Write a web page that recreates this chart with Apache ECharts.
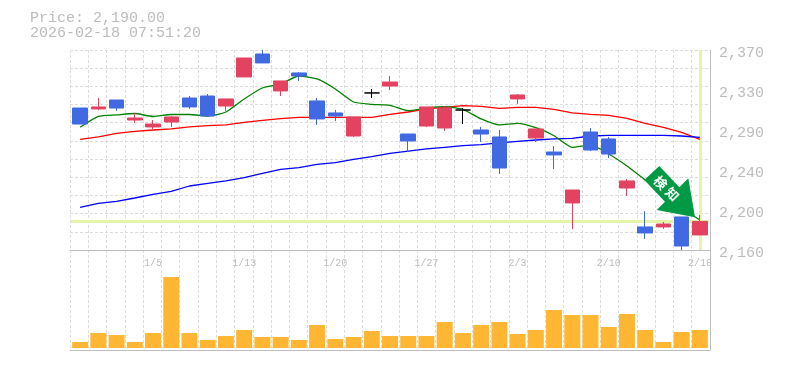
<!DOCTYPE html>
<html><head><meta charset="utf-8">
<style>html,body{margin:0;padding:0;background:#fff}#c{width:785px;height:370px}</style>
<script src="https://cdn.jsdelivr.net/npm/echarts@6/dist/echarts.min.js"></script>
</head><body><div id="c"></div>
<script>
const dates=['12/25','12/26','12/29','12/30','1/5','1/6','1/7','1/8','1/9','1/13','1/14','1/15','1/16','1/19','1/20','1/21','1/22','1/23','1/26','1/27','1/28','1/29','1/30','2/2','2/3','2/4','2/5','2/6','2/9','2/10','2/12','2/13','2/16','2/17','2/18'];
const shownDates=['1/5','1/13','1/20','1/27','2/3','2/10','2/18'];
const priceTickLabels=['2,160','2,200','2,240','2,290','2,330','2,370'];
// open, close, low, high
const ohlc=[
[2309.1,2292.3,2292.3,2309.1],[2308.1,2310.2,2307,2319.6],[2317.5,2309.1,2306,2317.5],[2296.5,2298.6,2293.4,2303.9],
[2289.2,2292.3,2287,2296.5],[2294.4,2299.7,2289.2,2300.7],[2319.6,2310.2,2308.1,2321.7],[2321.7,2300.7,2300.7,2323.8],
[2311.2,2318.6,2306,2318.6],[2341.7,2361.6,2341.7,2361.6],[2365.8,2356.4,2356.4,2370],[2327,2337.5,2321.7,2337.5],
[2345.9,2342.7,2337.5,2346.9],[2316.5,2297.6,2291.3,2319.6],[2303.9,2300.7,2295.5,2307],[2279.7,2299.7,2278.7,2299.7],
[2324.9,2324.9,2319.6,2329],[2332.2,2336.4,2328,2342.7],[2281.8,2274.5,2262.9,2281.8],[2290.2,2310.2,2289.2,2310.2],
[2288.1,2309.1,2285,2311.2],[2307,2307,2292.3,2309.1],[2286,2281.8,2273.4,2289.2],[2278.7,2246.1,2239.8,2286],
[2318.6,2322.8,2313.3,2323.8],[2277.6,2287.1,2273.4,2287.1],[2262.9,2259.8,2245,2269.2],[2209.4,2223,2182.1,2223],
[2283.9,2265,2263.9,2288.1],[2276.6,2260.8,2256.6,2278.7],[2225.1,2232.5,2216.7,2234.6],[2184.2,2177.9,2171.6,2200.9],
[2184.2,2187.3,2182.1,2189.4],[2194.7,2164.2,2160,2194.7],[2175.8,2190,2175.8,2196.8]];
const maGreen=[2288.8,2300.2,2301.8,2303.3,2300.2,2302.3,2302.3,2300.7,2304.9,2318.6,2330.1,2334.3,2342.7,2339.6,2329.1,2315.4,2313,2311.9,2306.3,2309.1,2310.5,2307.7,2297.6,2291.3,2293,2288.4,2280,2267.8,2270.3,2260.8,2248.2,2233.5,2219.9,2204.1,2191.5];
const maRed=[2276.2,2278.7,2282.5,2284.6,2286,2287.1,2289.2,2290.5,2291.3,2294.1,2296.2,2297.9,2299.3,2299.3,2299.3,2299.3,2299.3,2302.5,2304.9,2308.1,2309.8,2311.5,2310.9,2308.8,2309.8,2309.8,2307.7,2303.9,2302.5,2301.4,2298.3,2293,2288.8,2283.6,2276.2];
const maBlue=[2204.8,2209,2211.1,2214.6,2218.5,2221.6,2227.2,2230,2232.5,2235.9,2240.5,2244.7,2246.6,2250,2251.7,2255.2,2258,2261.5,2263.9,2266.1,2267.8,2269.5,2270.6,2272.4,2274.1,2275.5,2276.6,2277.3,2279.7,2280.4,2280.4,2280.4,2280.4,2279.7,2278.3];
const volume=[6,15,13,6,15,71,15,8,12,18,11,11,8,23,9,11,17,12,12,12,26,15,23,26,14,18,38,33,33,21,34,18,6,16,18];
const lastPrice=2190;
const lastDate='2/18';
const headerLines=['Price: 2,190.00','2026-02-18 07:51:20'];
const arrowChars=['検','知'];

const MONO='"Liberation Mono",monospace';
const grey='#bcbcbc', frame='#bdbdbd', gridC='#dcdcdc', lime='#e4f5a8';
const dashed={show:true,lineStyle:{color:gridC,type:[3,2],width:1}};
const hiddenX={axisLine:{show:false},axisTick:{show:false},axisLabel:{show:false},splitLine:{show:false}};
const hiddenY={axisLine:{show:false},axisTick:{show:false},axisLabel:{show:false},splitLine:{show:false}};
const frameLine={show:true,onZero:false,lineStyle:{color:frame,width:1}};
const chart=echarts.init(document.getElementById('c'),null,{renderer:'canvas'});
chart.setOption({
 animation:false,backgroundColor:'#fff',
 title:headerLines.map((t,i)=>({text:t,left:30,top:11+i*15,padding:0,textStyle:{fontFamily:MONO,fontSize:15,fontWeight:'normal',color:grey,lineHeight:15}})),
 grid:[
  {left:71,width:638,top:50,height:200},
  {left:71,width:638,top:250,height:100},
  {left:70,width:640,top:50,height:200},
  {left:70,width:640,top:250,height:100}
 ],
 xAxis:[
  {type:'category',gridIndex:0,data:dates,...hiddenX,
   axisLabel:{show:true,interval:(i,v)=>shownDates.includes(v),hideOverlap:false,fontFamily:MONO,fontSize:10,color:grey,margin:8}},
  {type:'category',gridIndex:1,data:dates,...hiddenX},
  {type:'category',gridIndex:2,data:dates,axisLine:frameLine,axisTick:{show:false},axisLabel:{show:false},splitLine:{...dashed,interval:0}},
  {type:'category',gridIndex:3,data:dates,axisLine:frameLine,axisTick:{show:false},axisLabel:{show:false},splitLine:{...dashed,interval:0}}
 ],
 yAxis:[
  {type:'value',gridIndex:0,min:2160,max:2370,...hiddenY},
  {type:'value',gridIndex:1,min:-2,max:98,...hiddenY},
  {type:'value',gridIndex:2,min:0,max:5,interval:1,position:'right',
   axisLine:{show:true,lineStyle:{color:frame,width:1}},axisTick:{show:false},splitLine:{show:false},
   axisLabel:{show:true,margin:9,fontFamily:MONO,fontSize:15,color:grey,verticalAlign:'top',lineHeight:6,formatter:v=>priceTickLabels[v]}},
  {type:'value',gridIndex:2,min:0,max:11,interval:1,position:'left',axisLine:{show:false},axisTick:{show:false},axisLabel:{show:false},splitLine:dashed},
  {type:'value',gridIndex:3,min:0,max:1,position:'right',axisLine:{show:true,lineStyle:{color:frame,width:1}},axisTick:{show:false},axisLabel:{show:false},splitLine:{show:false}}
 ],
 series:[
  {type:'line',name:'MA red',xAxisIndex:0,yAxisIndex:0,data:maRed,showSymbol:false,z:2,lineStyle:{color:'#ff0000',width:1.3},
   markLine:{silent:true,symbol:'none',z:1,animation:false,label:{show:false},lineStyle:{color:lime,type:'solid',width:3},
     data:[{yAxis:lastPrice},{xAxis:lastDate}]}},
  {type:'line',name:'MA blue',xAxisIndex:0,yAxisIndex:0,data:maBlue,showSymbol:false,z:2,lineStyle:{color:'#0000ff',width:1.3}},
  {type:'line',name:'MA green',xAxisIndex:0,yAxisIndex:0,data:maGreen,showSymbol:false,smooth:0.2,z:2,lineStyle:{color:'#008000',width:1.3}},
  {type:'candlestick',xAxisIndex:0,yAxisIndex:0,data:ohlc,barWidth:15,z:3,
   itemStyle:{color:'#e34260',borderColor:'#e34260',color0:'#4169e1',borderColor0:'#4169e1',borderColorDoji:'#000000',borderWidth:1}},
  {type:'bar',xAxisIndex:1,yAxisIndex:1,data:volume,barWidth:16,itemStyle:{color:'#ffb733'}}
 ],
 graphic:[
  {type:'polygon',z:100,shape:{points:[[659.3,166],[644.3,180],[665,201.7],[656.7,210],[695,217.3],[688.3,178.3],[679.3,187.3]]},style:{fill:'#009944'}},
  ...arrowChars.map((c,i)=>({type:'text',z:101,x:660.7+i*11.6,y:182.7+i*11.3,rotation:-Math.PI/4,
     style:{text:c,fill:'#fff',fontSize:13,fontWeight:'bold',fontFamily:'"Noto Sans CJK JP"',align:'center',verticalAlign:'middle'}}))
 ]
});
</script></body></html>
